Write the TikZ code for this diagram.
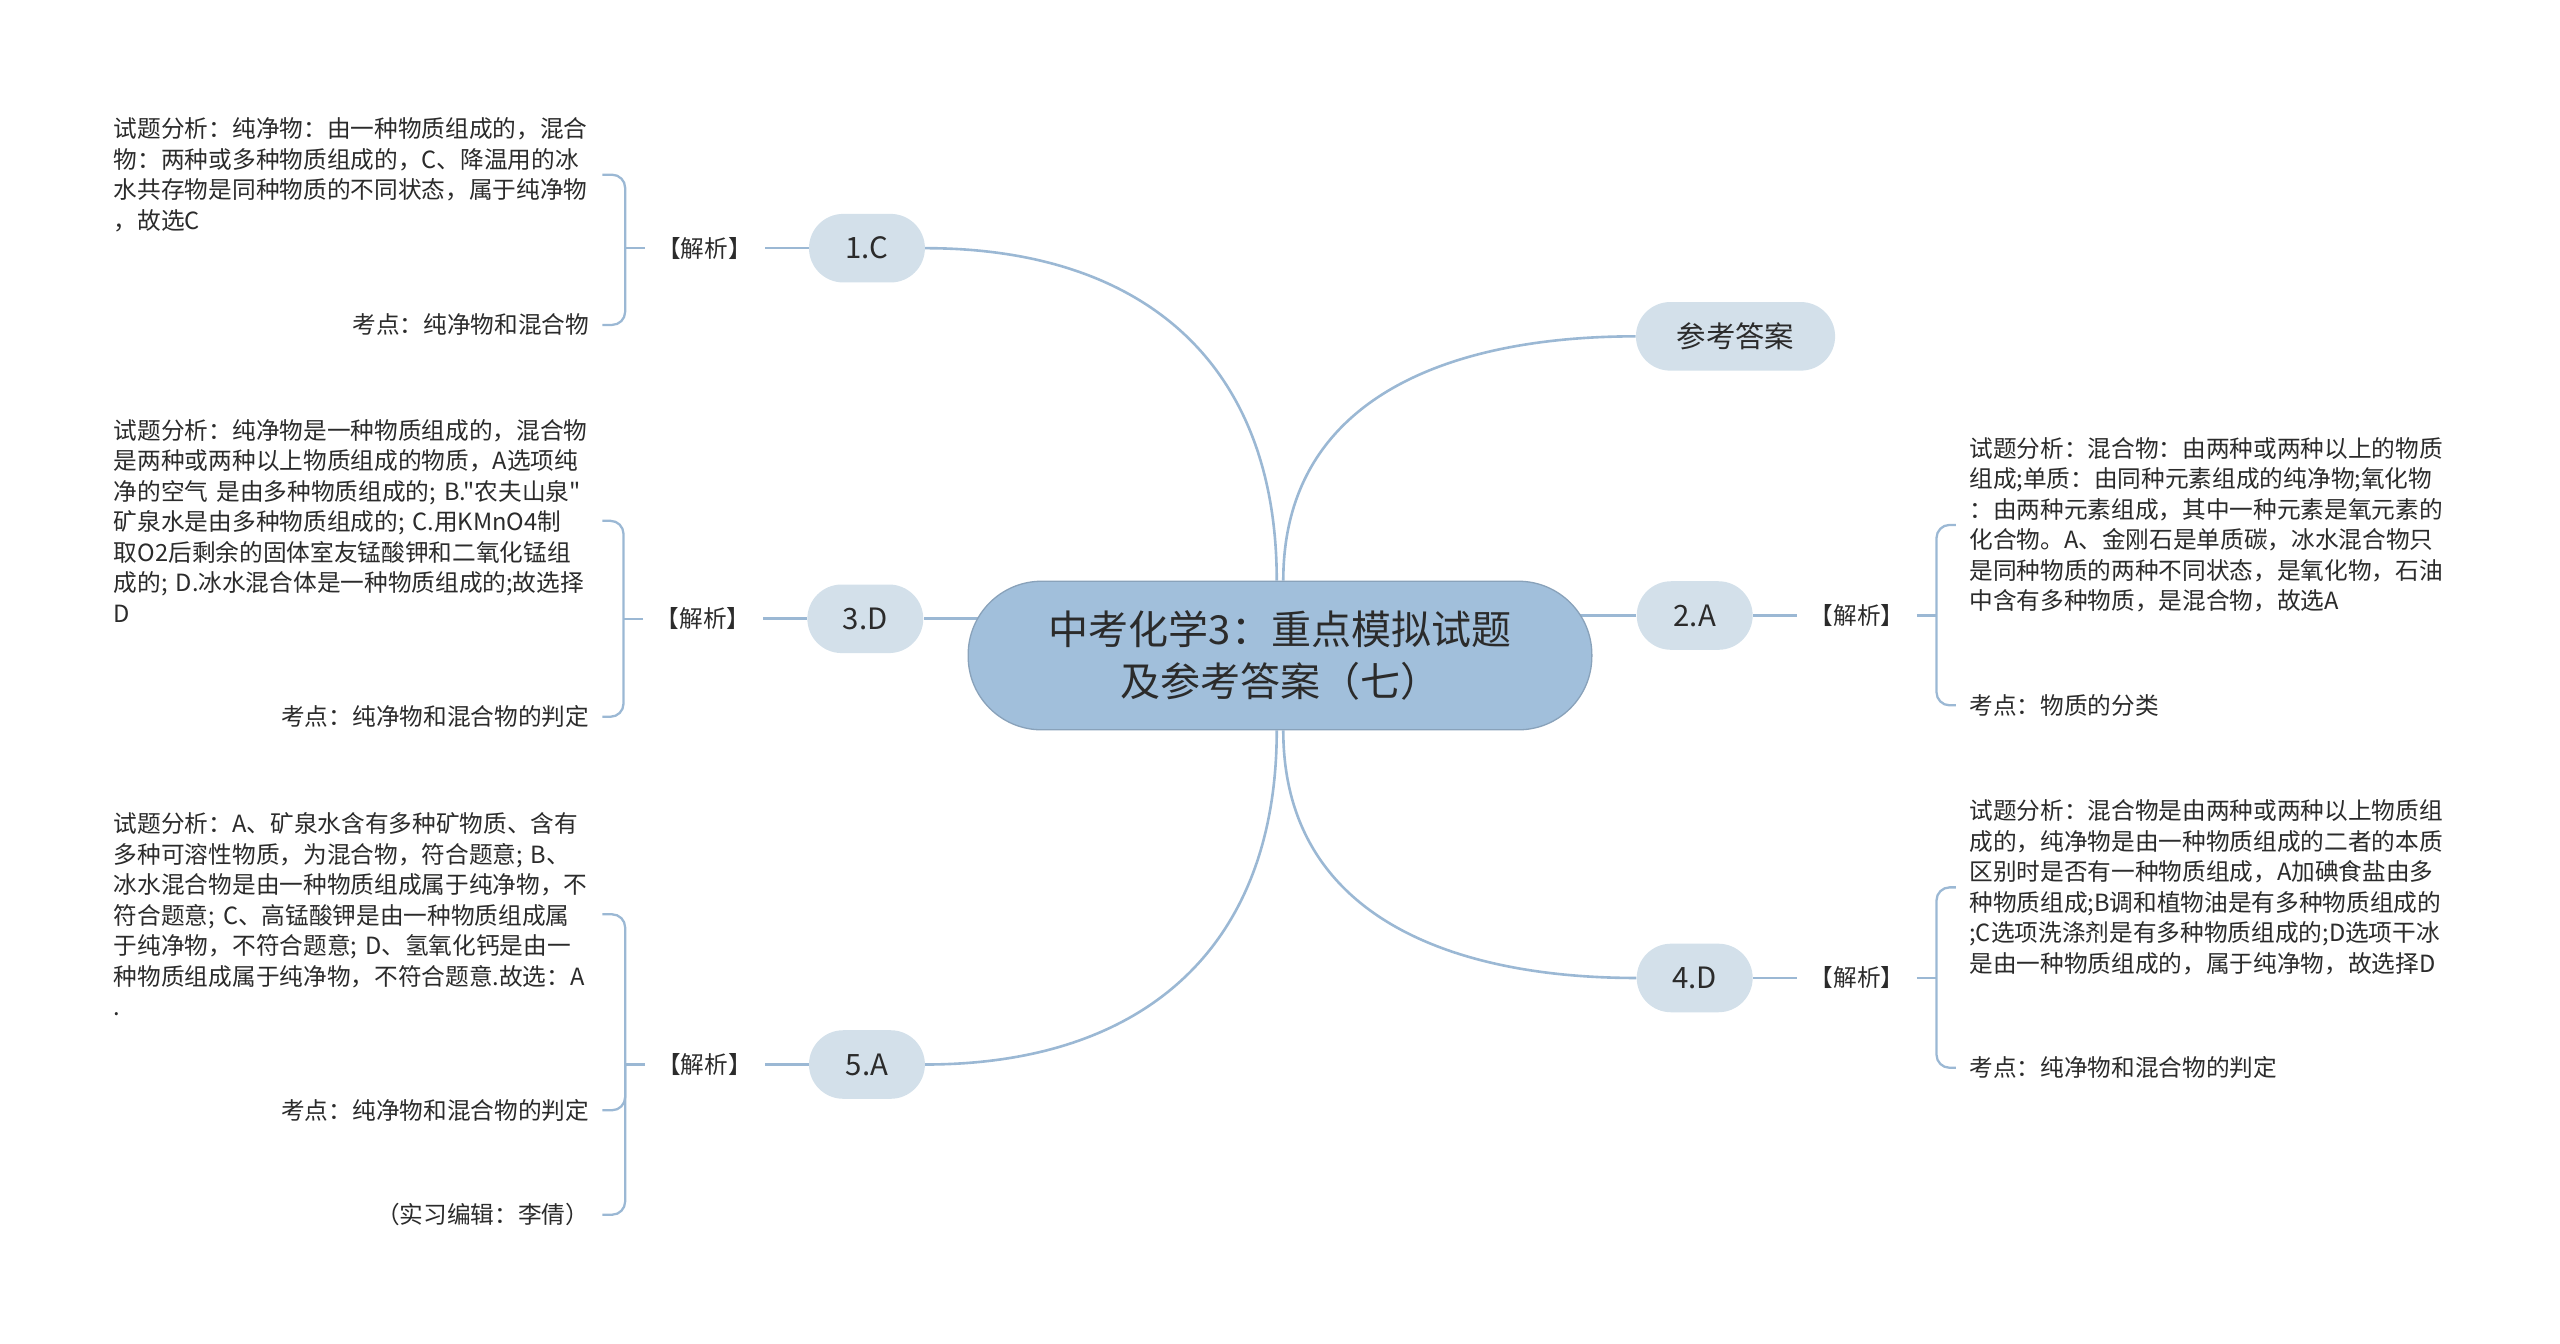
\documentclass[tikz,border=0pt]{standalone}
\usepackage{fontspec}
\setmainfont[Ligatures=TeXOff]{Noto Sans CJK SC}
\usepackage{xcolor}
\usetikzlibrary{positioning,backgrounds}
\definecolor{linkblue}{HTML}{9BB8D4}
\definecolor{pillfill}{HTML}{D3E0EA}
\definecolor{rootfill}{HTML}{A1BFDB}
\definecolor{inkgray}{HTML}{2B2B2B}

\begin{document}
\begin{tikzpicture}[
    x=1pt, y=1pt,
    font=\fontsize{14.5}{18.7}\selectfont,
    text=inkgray,
    rootnode/.style={fill=rootfill, draw=rootfill!85!black, line width=0.8pt, rounded corners=45pt, minimum width=382pt, minimum height=91pt, align=center, font=\fontsize{24.5}{32}\selectfont},
    pill/.style={fill=pillfill, rounded corners=21pt, minimum height=42pt, minimum width=71pt, font=\fontsize{18}{22}\selectfont},
    tag/.style={inner xsep=7.5pt, inner ysep=3pt},
    note/.style={align=left, text width=291pt, inner xsep=8pt, inner ysep=2pt},
    keyline/.style={inner xsep=8pt, inner ysep=2pt},
    link/.style={draw=linkblue, line width=1.6pt},
    brace/.style={draw=linkblue, line width=1.4pt, rounded corners=8pt}
]
\useasboundingbox (0,0) rectangle (1568,-823);

\node[rootnode] (root) at (784,-401.5) {中考化学3：重点模拟试题\\及参考答案（七）};

\node[pill] (c1) at (531,-152) {1.C};
\node[pill] (c3) at (530,-379) {3.D};
\node[pill] (c5) at (531,-652) {5.A};
\node[pill, minimum width=122pt] (c0) at (1063,-206) {参考答案};
\node[pill] (c2) at (1038,-377) {2.A};
\node[pill] (c4) at (1038,-599) {4.D};

\node[tag, left=27pt of c1] (jx1) {【解析】};
\node[tag, left=27pt of c3] (jx3) {【解析】};
\node[tag, left=27pt of c5] (jx5) {【解析】};
\node[tag, right=27pt of c2] (jx2) {【解析】};
\node[tag, right=27pt of c4] (jx4) {【解析】};

\coordinate[left=12pt of jx1] (b1);
\coordinate[left=12pt of jx3] (b3);
\coordinate[left=12pt of jx5] (b5);
\coordinate[right=12pt of jx2] (b2);
\coordinate[right=12pt of jx4] (b4);

\node[note, anchor=east] (t1) at (369,-107) {试题分析：纯净物：由一种物质组成的，混合\\物：两种或多种物质组成的，C、降温用的冰\\水共存物是同种物质的不同状态，属于纯净物\\，故选C};
\node[keyline, anchor=east] (k1) at (369,-199) {考点：纯净物和混合物};

\node[note, anchor=east] (t3) at (369,-319) {试题分析：纯净物是一种物质组成的，混合物\\是两种或两种以上物质组成的物质，A选项纯\\净的空气~是由多种物质组成的;~B."农夫山泉"\\矿泉水是由多种物质组成的;~C.用KMnO4制\\取O2后剩余的固体室友锰酸钾和二氧化锰组\\成的;~D.冰水混合体是一种物质组成的;故选择\\D};
\node[keyline, anchor=east] (k3) at (369,-439) {考点：纯净物和混合物的判定};

\node[note, anchor=east] (t5) at (369,-560) {试题分析：A、矿泉水含有多种矿物质、含有\\多种可溶性物质，为混合物，符合题意;~B、\\冰水混合物是由一种物质组成属于纯净物，不\\符合题意;~C、高锰酸钾是由一种物质组成属\\于纯净物，不符合题意;~D、氢氧化钙是由一\\种物质组成属于纯净物，不符合题意.故选：A\\.};
\node[keyline, anchor=east] (k5) at (369,-680) {考点：纯净物和混合物的判定};
\node[keyline, anchor=east] (e5) at (369,-744) {（实习编辑：李倩）};

\node[note, anchor=west] (t2) at (1198,-321.5) {试题分析：混合物：由两种或两种以上的物质\\组成;单质：由同种元素组成的纯净物;氧化物\\：由两种元素组成，其中一种元素是氧元素的\\化合物。A、金刚石是单质碳，冰水混合物只\\是同种物质的两种不同状态，是氧化物，石油\\中含有多种物质，是混合物，故选A};
\node[keyline, anchor=west] (k2) at (1198,-432) {考点：物质的分类};

\node[note, anchor=west] (t4) at (1198,-543.5) {试题分析：混合物是由两种或两种以上物质组\\成的，纯净物是由一种物质组成的二者的本质\\区别时是否有一种物质组成，A加碘食盐由多\\种物质组成;B调和植物油是有多种物质组成的\\;C选项洗涤剂是有多种物质组成的;D选项干冰\\是由一种物质组成的，属于纯净物，故选择D};
\node[keyline, anchor=west] (k4) at (1198,-654) {考点：纯净物和混合物的判定};

\begin{scope}[on background layer]
\draw[link] (c1.east) to[out=0,in=90,looseness=1.15] ([xshift=-2pt]root.north);
\draw[link] (c5.east) to[out=0,in=-90,looseness=1.15] ([xshift=-2pt]root.south);
\draw[link] (c0.west) to[out=180,in=90,looseness=1.1] ([xshift=2pt]root.north);
\draw[link] (c4.west) to[out=180,in=-90,looseness=1.1] ([xshift=2pt]root.south);
\draw[link] (c3.east) -- (root.center |- c3.east);
\draw[link] (c2.west) -- (root.center |- c2.west);
\end{scope}

\draw[link] (c1) -- (jx1);
\draw[link] (c3) -- (jx3);
\draw[link] (c5) -- (jx5);
\draw[link] (c2) -- (jx2);
\draw[link] (c4) -- (jx4);

\draw[link, line width=1.4pt] (jx1.west) -- (b1);
\draw[link, line width=1.4pt] (jx3.west) -- (b3);
\draw[link, line width=1.4pt] (jx5.west) -- (b5);
\draw[link, line width=1.4pt] (jx2.east) -- (b2);
\draw[link, line width=1.4pt] (jx4.east) -- (b4);

\draw[brace] (t1.east) -| (b1) |- (k1.east);
\draw[brace] (t3.east) -| (b3) |- (k3.east);
\draw[brace] (t5.east) -| (b5) |- (e5.east);
\draw[brace] (k5.east) -| (b5);
\draw[brace] (t2.west) -| (b2) |- (k2.west);
\draw[brace] (t4.west) -| (b4) |- (k4.west);
\end{tikzpicture}
\end{document}
